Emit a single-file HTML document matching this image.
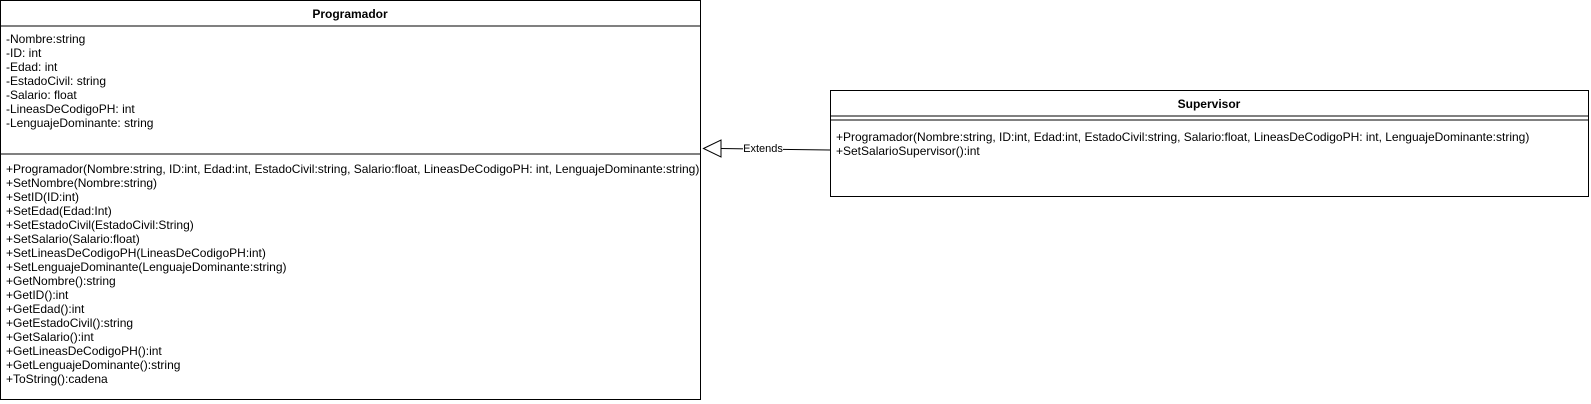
<!DOCTYPE html>
<html><head><meta charset="utf-8"><style>
html,body{margin:0;padding:0;background:#fff;width:1591px;height:404px;overflow:hidden}
text{font-family:"Liberation Sans",Arial,sans-serif;font-size:12px;fill:#000}
</style></head><body>
<svg width="1591" height="404" xmlns="http://www.w3.org/2000/svg">
<rect x="0.5" y="0.5" width="700" height="399" fill="#fff" stroke="#000"/>
<line x1="0" y1="26" x2="701" y2="26" stroke="#000"/>
<line x1="0" y1="154" x2="701" y2="154" stroke="#000"/>
<text x="350" y="18" text-anchor="middle" font-weight="bold">Programador</text>
<g>
<text x="6" y="43">-Nombre:string</text>
<text x="6" y="57">-ID: int</text>
<text x="6" y="71">-Edad: int</text>
<text x="6" y="85">-EstadoCivil: string</text>
<text x="6" y="99">-Salario: float</text>
<text x="6" y="113">-LineasDeCodigoPH: int</text>
<text x="6" y="127">-LenguajeDominante: string</text>
</g>
<svg x="0" y="154" width="699" height="246">
<g transform="translate(0,-154)">
<text x="6" y="173">+Programador(Nombre:string, ID:int, Edad:int, EstadoCivil:string, Salario:float, LineasDeCodigoPH: int, LenguajeDominante:string)</text>
<text x="6" y="187">+SetNombre(Nombre:string)</text>
<text x="6" y="201">+SetID(ID:int)</text>
<text x="6" y="215">+SetEdad(Edad:Int)</text>
<text x="6" y="229">+SetEstadoCivil(EstadoCivil:String)</text>
<text x="6" y="243">+SetSalario(Salario:float)</text>
<text x="6" y="257">+SetLineasDeCodigoPH(LineasDeCodigoPH:int)</text>
<text x="6" y="271">+SetLenguajeDominante(LenguajeDominante:string)</text>
<text x="6" y="285">+GetNombre():string</text>
<text x="6" y="299">+GetID():int</text>
<text x="6" y="313">+GetEdad():int</text>
<text x="6" y="327">+GetEstadoCivil():string</text>
<text x="6" y="341">+GetSalario():int</text>
<text x="6" y="355">+GetLineasDeCodigoPH():int</text>
<text x="6" y="369">+GetLenguajeDominante():string</text>
<text x="6" y="383">+ToString():cadena</text>
</g>
</svg>
<rect x="830.5" y="90.5" width="758" height="106" fill="#fff" stroke="#000"/>
<line x1="830" y1="116" x2="1589" y2="116" stroke="#000"/>
<line x1="830" y1="120" x2="1589" y2="120" stroke="#000"/>
<text x="1209" y="108" text-anchor="middle" font-weight="bold">Supervisor</text>
<text x="836" y="141">+Programador(Nombre:string, ID:int, Edad:int, EstadoCivil:string, Salario:float, LineasDeCodigoPH: int, LenguajeDominante:string)</text>
<text x="836" y="155">+SetSalarioSupervisor():int</text>
<line x1="830" y1="150" x2="721" y2="148.5" stroke="#000"/>
<polygon points="703.5,148.5 721,140 721,157" fill="#fff" stroke="#000"/>
<rect x="743" y="142" width="40" height="13" fill="#fff"/>
<text x="763" y="152" text-anchor="middle" style="font-size:11px">Extends</text>
</svg>
</body></html>
